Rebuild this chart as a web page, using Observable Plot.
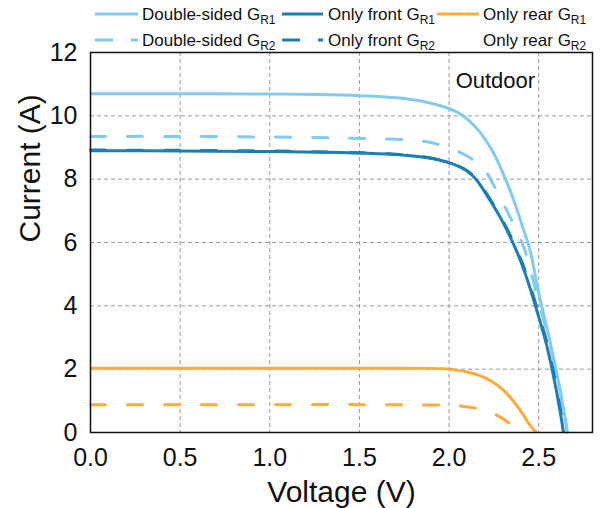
<!DOCTYPE html>
<html>
<head>
<meta charset="utf-8">
<script src="https://cdn.jsdelivr.net/npm/d3@7"></script>
<script src="https://cdn.jsdelivr.net/npm/@observablehq/plot@0.6"></script>
<style>
  html, body { margin: 0; padding: 0; background: #fff; }
  #wrap { position: relative; width: 607px; height: 508px; font-family: "Liberation Sans", Arial, sans-serif; }
  #legend { position: absolute; left: 0; top: 0; }
</style>
</head>
<body>
<div id="wrap"></div>
<script>
// ---- data (Voltage V, Current A) ----
const doubleSidedR1 = [[0,10.7],[0.5,10.7],[1.0,10.69],[1.4,10.66],[1.6,10.61],[1.77,10.53],[1.9,10.4],[1.98,10.27],[2.05,10.1],[2.11,9.86],[2.17,9.5],[2.236,8.95],[2.3,8.2],[2.36,7.35],[2.41,6.5],[2.452,5.75],[2.5,4.4],[2.55,3.2],[2.6,1.9],[2.64,0.7],[2.66,0]];
const doubleSidedR2 = [[0,9.35],[0.5,9.35],[1.0,9.33],[1.4,9.3],[1.7,9.26],[1.85,9.2],[1.95,9.08],[2.03,8.92],[2.1,8.73],[2.16,8.5],[2.21,8.2],[2.25,7.8],[2.293,7.34],[2.33,6.92],[2.367,6.5],[2.423,5.75],[2.46,5.0],[2.49,4.35],[2.55,3.05],[2.6,1.85],[2.64,0.7],[2.658,0]];
const onlyFrontR1 = [[0,8.9],[0.5,8.89],[1.0,8.87],[1.4,8.84],[1.67,8.79],[1.85,8.7],[1.95,8.6],[2.02,8.48],[2.1,8.26],[2.15,8.0],[2.19,7.68],[2.24,7.23],[2.284,6.81],[2.35,6.07],[2.405,5.33],[2.455,4.5],[2.5,3.65],[2.54,2.85],[2.58,1.85],[2.62,0.65],[2.638,0]];
const onlyFrontR2 = [[0,8.92],[0.5,8.91],[1.0,8.89],[1.4,8.85],[1.67,8.8],[1.85,8.71],[1.95,8.61],[2.02,8.49],[2.1,8.27],[2.15,8.01],[2.19,7.7],[2.244,7.23],[2.288,6.81],[2.354,6.07],[2.41,5.33],[2.46,4.5],[2.505,3.65],[2.545,2.85],[2.585,1.85],[2.624,0.65],[2.642,0]];
const onlyRearR1 = [[0,2.03],[0.5,2.03],[1.0,2.03],[1.5,2.03],[1.9,2.025],[1.97,2.01],[2.04,1.97],[2.1,1.91],[2.16,1.82],[2.21,1.7],[2.26,1.53],[2.31,1.3],[2.35,1.05],[2.38,0.83],[2.42,0.5],[2.455,0.2],[2.487,0]];
const onlyRearR2 = [[0,0.88],[0.5,0.88],[1.0,0.88],[1.5,0.88],[1.9,0.87],[2.0,0.86],[2.06,0.84],[2.15,0.77],[2.2,0.7],[2.25,0.59],[2.29,0.47],[2.33,0.32],[2.355,0.2]];

const seriesNames = ["Double-sided", "Double-sided", "Only front", "Only front", "Only rear", "Only rear"];
const seriesSubs = ["R1", "R2", "R1", "R2", "R1", "R2"];
const seriesColors = ["#80CBEF", "#80CBEF", "#1B7EB6", "#1B7EB6", "#FDAA3E", "#FDAA3E"];
const seriesDashed = [false, true, false, true, false, true];
const seriesData = [doubleSidedR1, doubleSidedR2, onlyFrontR1, onlyFrontR2, onlyRearR1, onlyRearR2];

const xTicks = [0, 0.5, 1.0, 1.5, 2.0, 2.5];
const yTicks = [0, 2, 4, 6, 8, 10, 12];
const xGrid = [0.5, 1.0, 1.5, 2.0, 2.5];
const yGrid = [2, 4, 6, 8, 10];
const xTitle = "Voltage (V)";
const yTitle = "Current (A)";
const annotation = [{v: 2.48, i: 11.1, label: "Outdoor"}];

const FONT = '"Liberation Sans", Arial, sans-serif';
const DASH = "15,22";

const lineMarks = seriesData.map((d, k) => Plot.line(d, {
  x: p => p[0], y: p => p[1],
  stroke: seriesColors[k], strokeWidth: 3,
  strokeDasharray: seriesDashed[k] ? DASH : null,
  strokeLinecap: seriesDashed[k] ? "round" : "butt",
  curve: "catmull-rom"
}));

const chart = Plot.plot({
  width: 607, height: 508,
  marginLeft: 90, marginRight: 15, marginTop: 52, marginBottom: 76,
  style: {fontFamily: FONT, fontSize: "25px", color: "#111", background: "#fff", overflow: "visible"},
  x: {domain: [0, 2.8]},
  y: {domain: [0, 12]},
  marks: [
    Plot.gridX(xGrid, {stroke: "#9a9a9a", strokeOpacity: 1, strokeWidth: 1, strokeDasharray: "4,3"}),
    Plot.gridY(yGrid, {stroke: "#9a9a9a", strokeOpacity: 1, strokeWidth: 1, strokeDasharray: "4,3"}),
    Plot.axisX(xTicks, {tickSize: 0, tickPadding: 16, tickFormat: d3.format(".1f"), label: null, fontSize: 25}),
    Plot.axisY(yTicks, {tickSize: 0, tickPadding: 13, label: null, fontSize: 25}),
    ...lineMarks,
    Plot.frame({stroke: "#111", strokeWidth: 1.5}),
    Plot.text([xTitle], {frameAnchor: "bottom", dy: 60, fontSize: 30, lineAnchor: "middle", fill: "#111"}),
    Plot.text([yTitle], {frameAnchor: "left", dx: -60, rotate: -90, fontSize: 30, lineAnchor: "middle", fill: "#111"}),
    Plot.text(annotation, {x: "v", y: "i", text: "label", textAnchor: "end", lineAnchor: "middle", fontSize: 22, fill: "#111"})
  ]
});

const wrap = document.getElementById("wrap");
wrap.appendChild(chart);

// ---- legend ----
const legendCols = [95, 282, 437];
const legendTextX = [142, 328, 483];
const legendSampleEnd = [138, 323, 479];
const legendRowY = [14, 40];
const svg = d3.select(wrap).append("svg")
  .attr("id", "legend").attr("width", 607).attr("height", 52)
  .style("font-family", FONT);
seriesNames.forEach((name, k) => {
  const col = Math.floor(k / 2), row = k % 2;
  const y = legendRowY[row];
  const showSample = !(col === 2 && row === 1);
  if (showSample) {
    svg.append("line")
      .attr("x1", legendCols[col]).attr("x2", legendSampleEnd[col])
      .attr("y1", y).attr("y2", y)
      .attr("stroke", seriesColors[k]).attr("stroke-width", 3)
      .attr("stroke-dasharray", seriesDashed[k] ? "18,18" : null);
  }
  const t = svg.append("text")
    .attr("x", legendTextX[col]).attr("y", y + 6)
    .attr("font-size", 17).attr("fill", "#111");
  t.append("tspan").text(name + " G");
  t.append("tspan").attr("font-size", 12).attr("dy", 4).text(seriesSubs[k]);
});
</script>
</body>
</html>
